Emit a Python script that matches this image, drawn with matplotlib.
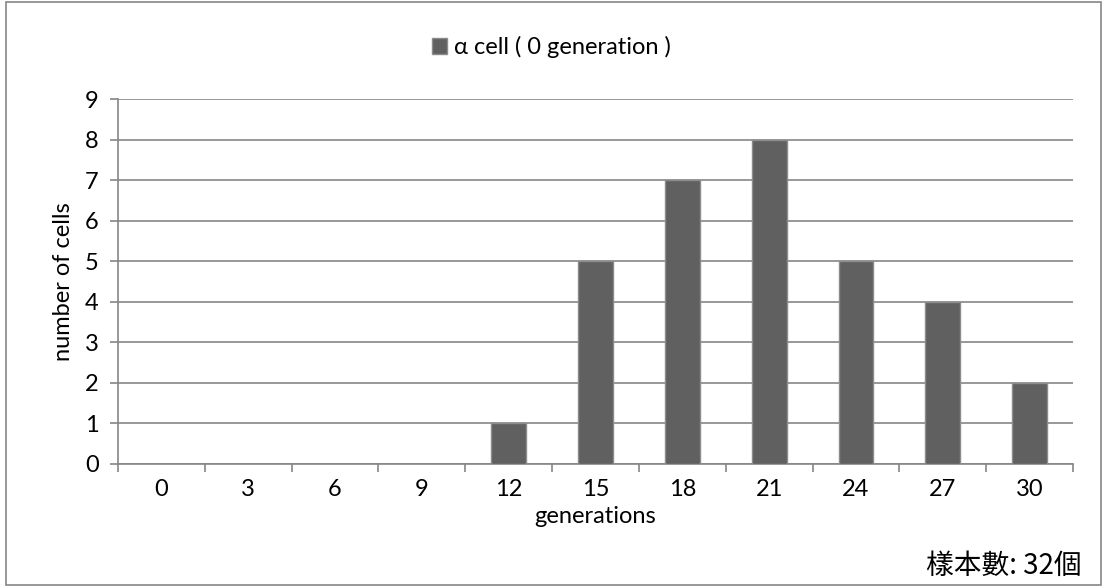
import numpy as np
import matplotlib.pyplot as plt
from matplotlib.patches import Rectangle

# data
generations = ['0', '3', '6', '9', '12', '15', '18', '21', '24', '27', '30']
cell_counts = [0, 0, 0, 0, 1, 5, 7, 8, 5, 4, 2]
y_ticks = list(range(0, 10))

plt.rcParams['font.family'] = ['Lato', 'DejaVu Sans']
grey = '#868686'
fs = 17

fig = plt.figure(figsize=(11.03, 5.86), dpi=100)
ax = fig.add_axes([0.107, 0.2082, 0.8658, 0.6223])

x = np.arange(len(generations))
ax.bar(x, cell_counts, width=0.4, color='#606060', edgecolor='#8c8c8c',
       linewidth=1, zorder=3, label='α cell ( 0 generation )')

ax.set_xlim(-0.5, len(generations) - 0.5)
ax.set_ylim(0, 9)
ax.set_yticks(y_ticks)
ax.yaxis.grid(True, color=grey, linewidth=1.2, zorder=0)

ax.set_xticks(x)
ax.set_xticklabels(generations)
ax.set_xticks(np.arange(-0.5, len(generations)), minor=True)
ax.tick_params(axis='x', which='major', length=0, pad=11, labelsize=fs)
ax.tick_params(axis='x', which='minor', length=6, width=1.2, color=grey)
ax.tick_params(axis='y', length=6, width=1.2, color=grey, labelsize=fs, pad=8)

for side in ['top', 'right']:
    ax.spines[side].set_visible(False)
for side in ['left', 'bottom']:
    ax.spines[side].set_color(grey)
    ax.spines[side].set_linewidth(1.2)

ax.set_xlabel('generations', fontsize=fs, labelpad=4)
ax.set_ylabel('number of cells', fontsize=fs, labelpad=8)

fig.legend(loc='center', bbox_to_anchor=(0.5, 0.92), frameon=False,
           fontsize=fs, handlelength=0.65, handleheight=0.65, handletextpad=0.3)

fig.text(0.981, 0.035, '樣本數: 32個', ha='right', va='center', fontsize=20,
         family=['Noto Sans CJK TC', 'DejaVu Sans'])

# outer chart border
fig.add_artist(Rectangle((0.005, 0.002), 0.993, 0.995, transform=fig.transFigure,
                         fill=False, edgecolor=grey, linewidth=1.2))

fig.savefig('out.png', dpi=100)
